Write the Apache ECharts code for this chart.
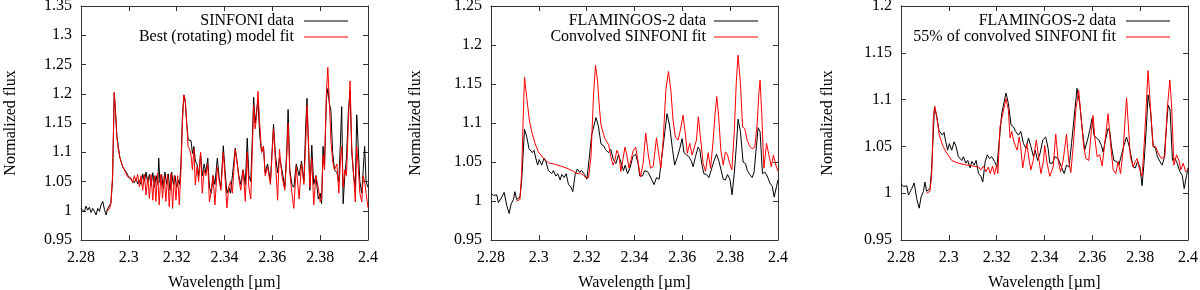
<!DOCTYPE html>
<html>
<head>
<meta charset="utf-8">
<script src="https://cdn.jsdelivr.net/npm/echarts@6/dist/echarts.min.js"></script>
<style>
html,body{margin:0;padding:0;background:#fff;}
#chart{width:1200px;height:290px;}
</style>
</head>
<body>
<div id="chart"></div>
<script>
// ---------- Data ----------
const xTicks = [2.28, 2.30, 2.32, 2.34, 2.36, 2.38, 2.40];
const yRange1 = [0.95, 1.35];
const yRange2 = [0.95, 1.25];
const yRange3 = [0.95, 1.20];

const seriesNames1 = ['SINFONI data', 'Best (rotating) model fit'];
const seriesNames2 = ['FLAMINGOS-2 data', 'Convolved SINFONI fit'];
const seriesNames3 = ['FLAMINGOS-2 data', '55% of convolved SINFONI fit'];
const xAxisTitle = 'Wavelength [\u00b5m]';
const yAxisTitle = 'Normalized flux';

// Panel 1: SINFONI data (black)
const sinfoniData = [
[2.2800,1.004],[2.2807,1.007],[2.2814,0.998],[2.2821,1.008],[2.2828,1.001],[2.2835,1.006],[2.2842,0.997],
[2.2849,1.004],[2.2856,0.999],[2.2863,0.993],[2.2870,1.004],[2.2877,0.999],[2.2884,1.010],[2.2891,1.016],
[2.2898,1.002],[2.2905,0.993],[2.2912,1.004],[2.2919,1.003],[2.2925,1.013],[2.2932,1.053],[2.2936,1.138],
[2.2939,1.202],[2.2944,1.172],[2.2950,1.127],[2.2956,1.110],[2.2962,1.092],[2.2967,1.090],[2.2974,1.075],
[2.2981,1.071],[2.2988,1.067],[2.2995,1.061],[2.3002,1.058],[2.3009,1.053],[2.3016,1.056],[2.3023,1.048],
[2.3030,1.055],[2.3037,1.046],[2.3044,1.052],[2.3051,1.045],[2.3058,1.063],[2.3065,1.050],[2.3072,1.066],
[2.3079,1.048],[2.3086,1.062],[2.3093,1.042],[2.3100,1.065],[2.3107,1.040],[2.3114,1.060],[2.3121,1.045],
[2.3125,1.090],[2.3130,1.048],[2.3137,1.062],[2.3144,1.038],[2.3151,1.066],[2.3158,1.045],[2.3165,1.063],
[2.3172,1.035],[2.3179,1.066],[2.3186,1.045],[2.3193,1.060],[2.3200,1.040],[2.3207,1.052],[2.3212,1.045],
[2.3218,1.080],[2.3224,1.160],[2.3230,1.198],[2.3236,1.185],[2.3242,1.150],[2.3248,1.121],[2.3254,1.118],
[2.3260,1.120],[2.3266,1.098],[2.3272,1.110],[2.3278,1.085],[2.3285,1.080],[2.3292,1.060],[2.3300,1.098],
[2.3307,1.060],[2.3315,1.080],[2.3322,1.065],[2.3330,1.090],[2.3337,1.040],[2.3345,1.030],[2.3352,1.060],
[2.3360,1.045],[2.3370,1.090],[2.3378,1.055],[2.3385,1.040],[2.3395,1.111],[2.3402,1.070],[2.3410,1.030],
[2.3418,1.040],[2.3425,1.030],[2.3433,1.060],[2.3445,1.107],[2.3452,1.085],[2.3460,1.060],[2.3468,1.045],
[2.3478,1.070],[2.3487,1.045],[2.3495,1.124],[2.3502,1.060],[2.3510,1.050],[2.3516,1.120],[2.3522,1.194],
[2.3528,1.150],[2.3534,1.170],[2.3540,1.190],[2.3547,1.130],[2.3555,1.100],[2.3563,1.110],[2.3570,1.065],
[2.3580,1.080],[2.3592,1.050],[2.3605,1.148],[2.3613,1.095],[2.3622,1.065],[2.3630,1.090],[2.3640,1.070],
[2.3652,1.040],[2.3660,1.100],[2.3666,1.173],[2.3673,1.070],[2.3682,1.045],[2.3690,1.040],[2.3700,1.080],
[2.3712,1.060],[2.3722,1.085],[2.3732,1.050],[2.3740,1.150],[2.3745,1.192],[2.3752,1.100],[2.3757,1.035],
[2.3765,1.112],[2.3773,1.045],[2.3782,1.060],[2.3792,1.020],[2.3800,1.030],[2.3806,1.012],[2.3812,1.110],
[2.3818,1.075],[2.3826,1.190],[2.3832,1.209],[2.3838,1.185],[2.3845,1.170],[2.3852,1.100],[2.3860,1.070],
[2.3870,1.065],[2.3878,1.050],[2.3885,1.120],[2.3890,1.178],[2.3896,1.012],[2.3903,1.060],[2.3910,1.090],
[2.3918,1.170],[2.3925,1.205],[2.3932,1.100],[2.3940,1.060],[2.3947,1.040],[2.3953,1.164],[2.3960,1.100],
[2.3966,1.050],[2.3974,1.030],[2.3980,1.070],[2.3986,1.110],[2.3992,1.050],[2.4000,1.040]
];

// Panel 1: best (rotating) model fit (red)
const sinfoniFit = [
[2.2905,1.000],[2.2912,1.001],[2.2919,1.003],[2.2925,1.012],[2.2932,1.060],[2.2936,1.140],[2.2939,1.202],
[2.2944,1.170],[2.2950,1.125],[2.2956,1.105],[2.2962,1.092],[2.2967,1.085],[2.2974,1.076],[2.2981,1.070],
[2.2988,1.064],[2.2995,1.058],[2.3002,1.060],[2.3009,1.056],[2.3016,1.048],[2.3023,1.060],[2.3030,1.050],
[2.3037,1.062],[2.3044,1.041],[2.3051,1.060],[2.3058,1.035],[2.3065,1.062],[2.3072,1.027],[2.3079,1.058],
[2.3086,1.021],[2.3093,1.062],[2.3100,1.018],[2.3107,1.060],[2.3113,1.016],[2.3120,1.064],[2.3127,1.010],
[2.3134,1.062],[2.3141,1.021],[2.3148,1.060],[2.3155,1.016],[2.3162,1.062],[2.3169,1.007],[2.3176,1.064],
[2.3183,1.004],[2.3190,1.060],[2.3197,1.018],[2.3204,1.060],[2.3211,1.010],[2.3218,1.070],[2.3224,1.150],
[2.3230,1.198],[2.3236,1.190],[2.3242,1.150],[2.3248,1.110],[2.3254,1.105],[2.3260,1.095],[2.3266,1.070],
[2.3272,1.105],[2.3278,1.044],[2.3285,1.075],[2.3292,1.050],[2.3300,1.100],[2.3307,1.030],[2.3315,1.070],
[2.3322,1.060],[2.3330,1.080],[2.3337,1.015],[2.3345,1.035],[2.3352,1.060],[2.3360,1.010],[2.3370,1.075],
[2.3378,1.050],[2.3385,1.035],[2.3395,1.100],[2.3402,1.060],[2.3410,1.005],[2.3418,1.040],[2.3425,1.050],
[2.3433,1.030],[2.3445,1.105],[2.3452,1.085],[2.3460,1.055],[2.3468,1.035],[2.3478,1.070],[2.3487,1.016],
[2.3495,1.100],[2.3502,1.040],[2.3510,1.020],[2.3516,1.100],[2.3522,1.180],[2.3528,1.140],[2.3534,1.160],
[2.3540,1.204],[2.3547,1.150],[2.3555,1.100],[2.3563,1.110],[2.3570,1.060],[2.3580,1.075],[2.3592,1.045],
[2.3605,1.140],[2.3613,1.085],[2.3622,1.018],[2.3630,1.105],[2.3640,1.060],[2.3652,1.035],[2.3660,1.090],
[2.3666,1.150],[2.3673,1.065],[2.3682,1.030],[2.3690,1.004],[2.3700,1.075],[2.3712,1.020],[2.3722,1.080],
[2.3732,1.045],[2.3740,1.120],[2.3745,1.180],[2.3752,1.110],[2.3757,1.040],[2.3765,1.090],[2.3773,1.010],
[2.3782,1.060],[2.3792,1.040],[2.3800,1.015],[2.3806,1.020],[2.3812,1.095],[2.3818,1.070],[2.3826,1.200],
[2.3832,1.245],[2.3838,1.190],[2.3845,1.120],[2.3852,1.085],[2.3860,1.070],[2.3870,1.080],[2.3878,1.030],
[2.3885,1.090],[2.3890,1.110],[2.3896,1.040],[2.3903,1.070],[2.3910,1.060],[2.3918,1.150],[2.3925,1.222],
[2.3932,1.110],[2.3940,1.060],[2.3947,1.015],[2.3953,1.110],[2.3960,1.070],[2.3966,1.030],[2.3974,1.015],
[2.3980,1.060],[2.3986,1.050],[2.3992,1.030],[2.4000,1.005]
];

// Panels 2 and 3: FLAMINGOS-2 data (black)
const flamingosData = [
[2.2800,1.010],[2.2810,1.007],[2.2824,1.008],[2.2831,0.998],[2.2845,1.005],[2.2855,1.011],[2.2866,0.994],
[2.2876,0.984],[2.2884,0.996],[2.2894,1.002],[2.2900,1.012],[2.2907,1.002],[2.2921,1.005],[2.2928,1.025],
[2.2940,1.092],[2.2949,1.083],[2.2959,1.067],[2.2966,1.069],[2.2973,1.062],[2.2980,1.065],[2.2987,1.055],
[2.2995,1.046],[2.3002,1.053],[2.3012,1.046],[2.3022,1.055],[2.3030,1.050],[2.3040,1.039],[2.3047,1.041],
[2.3054,1.035],[2.3061,1.039],[2.3071,1.032],[2.3079,1.035],[2.3089,1.027],[2.3096,1.034],[2.3106,1.030],
[2.3114,1.035],[2.3124,1.021],[2.3134,1.018],[2.3142,1.012],[2.3152,1.034],[2.3161,1.041],[2.3170,1.037],
[2.3179,1.039],[2.3191,1.034],[2.3201,1.028],[2.3210,1.053],[2.3221,1.085],[2.3239,1.107],[2.3249,1.096],
[2.3260,1.073],[2.3270,1.071],[2.3279,1.066],[2.3291,1.062],[2.3301,1.066],[2.3312,1.053],[2.3322,1.048],
[2.3333,1.059],[2.3343,1.050],[2.3354,1.039],[2.3361,1.046],[2.3371,1.035],[2.3382,1.043],[2.3393,1.057],
[2.3405,1.060],[2.3415,1.048],[2.3422,1.032],[2.3433,1.032],[2.3443,1.039],[2.3457,1.037],[2.3471,1.028],
[2.3482,1.021],[2.3492,1.030],[2.3503,1.028],[2.3513,1.053],[2.3527,1.089],[2.3536,1.112],[2.3547,1.096],
[2.3559,1.066],[2.3568,1.046],[2.3580,1.057],[2.3589,1.067],[2.3599,1.080],[2.3607,1.062],[2.3617,1.059],
[2.3627,1.057],[2.3638,1.051],[2.3645,1.044],[2.3655,1.057],[2.3666,1.069],[2.3673,1.066],[2.3680,1.050],
[2.3690,1.035],[2.3701,1.034],[2.3711,1.030],[2.3722,1.041],[2.3732,1.051],[2.3743,1.060],[2.3753,1.051],
[2.3761,1.041],[2.3771,1.028],[2.3780,1.027],[2.3789,1.034],[2.3799,1.028],[2.3808,1.008],[2.3817,1.035],
[2.3826,1.071],[2.3833,1.105],[2.3843,1.089],[2.3854,1.050],[2.3864,1.048],[2.3872,1.039],[2.3882,1.034],
[2.3892,1.030],[2.3900,1.037],[2.3910,1.071],[2.3917,1.094],[2.3925,1.089],[2.3935,1.035],[2.3945,1.037],
[2.3955,1.032],[2.3966,1.023],[2.3976,1.019],[2.3984,1.005],[2.3994,1.019],[2.4000,1.027]
];

// Panel 2: convolved SINFONI fit (red)
const convolvedFit = [
[2.2907,1.000],[2.2921,1.002],[2.2928,1.035],[2.2934,1.100],[2.2940,1.159],[2.2949,1.134],[2.2960,1.104],
[2.2970,1.089],[2.2984,1.074],[2.2998,1.063],[2.3019,1.055],[2.3040,1.049],[2.3068,1.047],[2.3089,1.045],
[2.3117,1.042],[2.3131,1.040],[2.3145,1.038],[2.3159,1.035],[2.3172,1.036],[2.3186,1.033],[2.3198,1.030],
[2.3208,1.030],[2.3218,1.057],[2.3229,1.138],[2.3237,1.174],[2.3245,1.155],[2.3254,1.117],[2.3260,1.097],
[2.3267,1.097],[2.3276,1.080],[2.3284,1.080],[2.3292,1.072],[2.3301,1.057],[2.3310,1.046],[2.3318,1.052],
[2.3326,1.065],[2.3335,1.059],[2.3343,1.038],[2.3351,1.052],[2.3360,1.069],[2.3368,1.059],[2.3377,1.042],
[2.3385,1.052],[2.3394,1.064],[2.3405,1.069],[2.3415,1.050],[2.3425,1.031],[2.3436,1.048],[2.3447,1.087],
[2.3457,1.061],[2.3467,1.042],[2.3478,1.044],[2.3492,1.081],[2.3501,1.061],[2.3510,1.042],[2.3520,1.078],
[2.3531,1.142],[2.3542,1.166],[2.3552,1.142],[2.3561,1.104],[2.3571,1.082],[2.3582,1.078],[2.3592,1.091],
[2.3603,1.110],[2.3613,1.085],[2.3621,1.061],[2.3631,1.074],[2.3641,1.059],[2.3649,1.057],[2.3659,1.078],
[2.3667,1.108],[2.3677,1.078],[2.3687,1.048],[2.3697,1.038],[2.3708,1.062],[2.3718,1.042],[2.3729,1.078],
[2.3737,1.112],[2.3744,1.134],[2.3752,1.108],[2.3761,1.065],[2.3771,1.046],[2.3780,1.063],[2.3789,1.059],
[2.3798,1.048],[2.3807,1.040],[2.3817,1.087],[2.3826,1.155],[2.3833,1.187],[2.3843,1.151],[2.3852,1.095],
[2.3861,1.093],[2.3871,1.078],[2.3882,1.070],[2.3892,1.067],[2.3903,1.069],[2.3913,1.099],[2.3920,1.138],
[2.3925,1.155],[2.3932,1.112],[2.3941,1.042],[2.3952,1.074],[2.3962,1.059],[2.3972,1.044],[2.3981,1.059],
[2.3991,1.046],[2.4000,1.038]
];

// Panel 3: 55% of convolved SINFONI fit (red)
const scaledFit = [
[2.2907,1.000],[2.2921,1.002],[2.2928,1.018],[2.2935,1.078],[2.2941,1.093],[2.2949,1.082],[2.2960,1.062],
[2.2974,1.051],[2.2991,1.043],[2.3012,1.035],[2.3040,1.032],[2.3075,1.030],[2.3103,1.029],[2.3124,1.028],
[2.3134,1.025],[2.3145,1.029],[2.3155,1.023],[2.3165,1.028],[2.3173,1.021],[2.3183,1.029],[2.3191,1.020],
[2.3200,1.030],[2.3205,1.021],[2.3214,1.071],[2.3239,1.101],[2.3249,1.089],[2.3256,1.059],[2.3263,1.066],
[2.3270,1.057],[2.3279,1.050],[2.3286,1.046],[2.3294,1.060],[2.3300,1.051],[2.3309,1.027],[2.3319,1.043],
[2.3326,1.053],[2.3336,1.035],[2.3343,1.025],[2.3353,1.035],[2.3366,1.057],[2.3375,1.039],[2.3385,1.021],
[2.3396,1.035],[2.3401,1.051],[2.3411,1.032],[2.3422,1.018],[2.3436,1.028],[2.3447,1.063],[2.3457,1.035],
[2.3467,1.023],[2.3478,1.035],[2.3492,1.063],[2.3501,1.035],[2.3510,1.022],[2.3520,1.050],[2.3531,1.089],
[2.3543,1.110],[2.3554,1.078],[2.3564,1.050],[2.3573,1.037],[2.3585,1.035],[2.3596,1.067],[2.3603,1.083],
[2.3610,1.060],[2.3620,1.039],[2.3631,1.041],[2.3641,1.029],[2.3652,1.053],[2.3666,1.085],[2.3676,1.053],
[2.3687,1.025],[2.3698,1.021],[2.3708,1.034],[2.3718,1.021],[2.3729,1.046],[2.3736,1.075],[2.3743,1.102],
[2.3750,1.075],[2.3759,1.039],[2.3771,1.028],[2.3780,1.034],[2.3787,1.037],[2.3798,1.025],[2.3808,1.018],
[2.3817,1.053],[2.3826,1.096],[2.3833,1.131],[2.3843,1.092],[2.3854,1.050],[2.3864,1.050],[2.3875,1.043],
[2.3889,1.037],[2.3903,1.039],[2.3913,1.089],[2.3924,1.121],[2.3931,1.096],[2.3941,1.030],[2.3952,1.041],
[2.3962,1.035],[2.3970,1.025],[2.3980,1.032],[2.3990,1.023],[2.4000,1.025]
];

// ---------- Chart ----------
const FONT = '"Liberation Serif", "DejaVu Serif", serif';
const FS = 16;
const AX = '#333';
const chart = echarts.init(document.getElementById('chart'), null, {renderer: 'canvas'});

const panels = [
  {left: 81,  yr: yRange1, names: seriesNames1, data: [sinfoniData, sinfoniFit],   yGap: 62, legRight: 852, textPad: 10},
  {left: 491, yr: yRange2, names: seriesNames2, data: [flamingosData, convolvedFit], yGap: 67, legRight: 442, textPad: 8},
  {left: 901, yr: yRange3, names: seriesNames3, data: [flamingosData, scaledFit],    yGap: 65, legRight: 30,  textPad: 10}
];

const grid = [], xAxis = [], yAxis = [], series = [], legend = [];
const colors = ['#000000', '#ff0000'];
panels.forEach((p, i) => {
  grid.push({left: p.left, top: 6, width: 287, height: 234, containLabel: false, outerBoundsMode: 'none'});
  const tickS = {show: true, inside: true, length: 5, lineStyle: {color: AX}};
  const lineS = {show: true, onZero: false, lineStyle: {color: AX, width: 1}};
  xAxis.push({
    type: 'value', gridIndex: i, min: xTicks[0], max: xTicks[xTicks.length - 1], interval: 0.02,
    position: 'bottom', axisLine: lineS, axisTick: tickS, splitLine: {show: false},
    axisLabel: {fontFamily: FONT, fontSize: FS, color: '#000', margin: 10},
    name: xAxisTitle, nameLocation: 'middle', nameGap: 35,
    nameTextStyle: {fontFamily: FONT, fontSize: FS, color: '#000'}
  });
  xAxis.push({
    type: 'value', gridIndex: i, min: xTicks[0], max: xTicks[xTicks.length - 1], interval: 0.02,
    position: 'top', axisLine: lineS, axisTick: tickS, axisLabel: {show: false}, splitLine: {show: false}
  });
  yAxis.push({
    type: 'value', gridIndex: i, min: p.yr[0], max: p.yr[1], interval: 0.05,
    position: 'left', axisLine: lineS, axisTick: tickS, splitLine: {show: false},
    axisLabel: {fontFamily: FONT, fontSize: FS, color: '#000', margin: 9},
    name: yAxisTitle, nameLocation: 'middle', nameGap: p.yGap, nameRotate: 90,
    nameTextStyle: {fontFamily: FONT, fontSize: FS, color: '#000'}
  });
  yAxis.push({
    type: 'value', gridIndex: i, min: p.yr[0], max: p.yr[1], interval: 0.05,
    position: 'right', axisLine: lineS, axisTick: tickS, axisLabel: {show: false}, splitLine: {show: false}
  });
  p.data.forEach((d, k) => {
    series.push({
      type: 'line', name: p.names[k], xAxisIndex: 2 * i, yAxisIndex: 2 * i,
      data: d, showSymbol: false, symbol: 'none', smooth: false, animation: false,
      lineStyle: {color: colors[k], width: 1}, itemStyle: {color: colors[k]},
      z: 2 + k
    });
  });
  legend.push({
    data: p.names.map((n, k) => ({name: n, icon: 'rect', itemStyle: {color: colors[k]}})),
    orient: 'vertical', align: 'right', right: p.legRight, top: 13,
    itemWidth: 44, itemHeight: 1, itemGap: 0, padding: 0, selectedMode: false,
    textStyle: {fontFamily: FONT, fontSize: FS, color: '#000', lineHeight: 15, padding: [0, p.textPad - 5, 0, 0]}
  });
});

chart.setOption({
  animation: false,
  backgroundColor: '#fff',
  grid, xAxis, yAxis, series, legend
});
</script>
</body>
</html>
